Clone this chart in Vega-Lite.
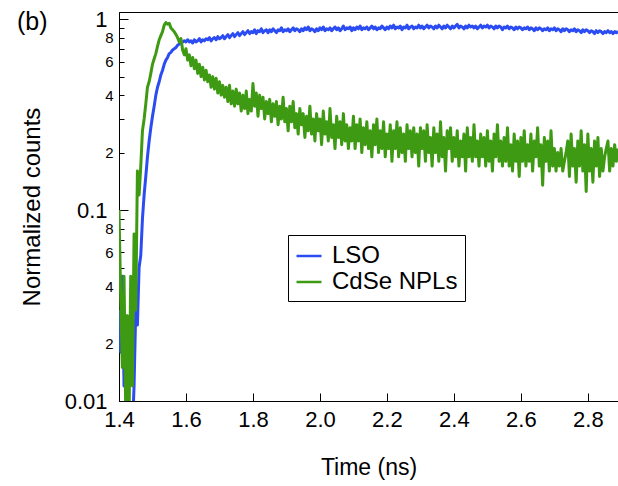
{
  "$schema": "https://vega.github.io/schema/vega-lite/v6.json",
  "autosize": "none",
  "width": 499,
  "height": 389,
  "padding": {"left": 119, "top": 12, "right": 0, "bottom": 85},
  "title": {"text": "(b)", "anchor": "start", "frame": "group", "fontSize": 25, "fontWeight": "normal", "font": "Liberation Sans", "dx": -102, "dy": 31, "color": "black"},
  "config": {
    "font": "Liberation Sans",
    "view": {"stroke": "black", "strokeWidth": 1}
  },
  "data": {"values": [
    {"t":1.4,"LSO":0.03,"CdSe NPLs":0.1},
    {"t":1.405,"LSO":0.018,"CdSe NPLs":0.035},
    {"t":1.41,"LSO":0.045,"CdSe NPLs":0.015},
    {"t":1.415,"LSO":0.012,"CdSe NPLs":0.045},
    {"t":1.42,"LSO":0.02,"CdSe NPLs":0.009},
    {"t":1.425,"LSO":0.006,"CdSe NPLs":0.028},
    {"t":1.43,"LSO":0.009,"CdSe NPLs":0.008},
    {"t":1.435,"LSO":0.005,"CdSe NPLs":0.045},
    {"t":1.44,"LSO":0.007,"CdSe NPLs":0.012},
    {"t":1.445,"LSO":0.012,"CdSe NPLs":0.075},
    {"t":1.45,"LSO":0.03,"CdSe NPLs":0.03},
    {"t":1.455,"LSO":0.025,"CdSe NPLs":0.16},
    {"t":1.46,"LSO":0.05,"CdSe NPLs":0.12},
    {"t":1.465,"LSO":0.058,"CdSe NPLs":0.17},
    {"t":1.47,"LSO":0.09,"CdSe NPLs":0.26},
    {"t":1.475,"LSO":0.12,"CdSe NPLs":0.30},
    {"t":1.48,"LSO":0.15,"CdSe NPLs":0.36},
    {"t":1.485,"LSO":0.19,"CdSe NPLs":0.44},
    {"t":1.49,"LSO":0.23,"CdSe NPLs":0.47},
    {"t":1.495,"LSO":0.27,"CdSe NPLs":0.52},
    {"t":1.5,"LSO":0.31,"CdSe NPLs":0.58},
    {"t":1.505,"LSO":0.35,"CdSe NPLs":0.62},
    {"t":1.51,"LSO":0.40,"CdSe NPLs":0.66},
    {"t":1.515,"LSO":0.44,"CdSe NPLs":0.72},
    {"t":1.52,"LSO":0.47,"CdSe NPLs":0.78},
    {"t":1.525,"LSO":0.51,"CdSe NPLs":0.82},
    {"t":1.53,"LSO":0.54,"CdSe NPLs":0.86},
    {"t":1.535,"LSO":0.58,"CdSe NPLs":0.93},
    {"t":1.54,"LSO":0.61,"CdSe NPLs":0.96},
    {"t":1.545,"LSO":0.63,"CdSe NPLs":0.94},
    {"t":1.55,"LSO":0.66,"CdSe NPLs":0.95},
    {"t":1.555,"LSO":0.67,"CdSe NPLs":0.90},
    {"t":1.56,"LSO":0.69,"CdSe NPLs":0.88},
    {"t":1.565,"LSO":0.70,"CdSe NPLs":0.86},
    {"t":1.57,"LSO":0.71,"CdSe NPLs":0.83},
    {"t":1.575,"LSO":0.73,"CdSe NPLs":0.80},
    {"t":1.58,"LSO":0.74,"CdSe NPLs":0.76},
    {"t":1.585,"LSO":0.75,"CdSe NPLs":0.79},
    {"t":1.59,"LSO":0.76,"CdSe NPLs":0.69},
    {"t":1.595,"LSO":0.77,"CdSe NPLs":0.65},
    {"t":1.6,"LSO":0.76,"CdSe NPLs":0.70},
    {"t":1.605,"LSO":0.78,"CdSe NPLs":0.61},
    {"t":1.61,"LSO":0.76,"CdSe NPLs":0.65},
    {"t":1.615,"LSO":0.77,"CdSe NPLs":0.57},
    {"t":1.62,"LSO":0.75,"CdSe NPLs":0.63},
    {"t":1.625,"LSO":0.78,"CdSe NPLs":0.55},
    {"t":1.63,"LSO":0.76,"CdSe NPLs":0.61},
    {"t":1.635,"LSO":0.77,"CdSe NPLs":0.52},
    {"t":1.64,"LSO":0.79,"CdSe NPLs":0.58},
    {"t":1.645,"LSO":0.76,"CdSe NPLs":0.50},
    {"t":1.65,"LSO":0.78,"CdSe NPLs":0.56},
    {"t":1.655,"LSO":0.77,"CdSe NPLs":0.48},
    {"t":1.66,"LSO":0.79,"CdSe NPLs":0.54},
    {"t":1.665,"LSO":0.78,"CdSe NPLs":0.47},
    {"t":1.67,"LSO":0.80,"CdSe NPLs":0.51},
    {"t":1.675,"LSO":0.77,"CdSe NPLs":0.44},
    {"t":1.68,"LSO":0.79,"CdSe NPLs":0.50},
    {"t":1.685,"LSO":0.80,"CdSe NPLs":0.43},
    {"t":1.69,"LSO":0.78,"CdSe NPLs":0.49},
    {"t":1.695,"LSO":0.81,"CdSe NPLs":0.41},
    {"t":1.7,"LSO":0.79,"CdSe NPLs":0.47},
    {"t":1.705,"LSO":0.80,"CdSe NPLs":0.40},
    {"t":1.71,"LSO":0.82,"CdSe NPLs":0.45},
    {"t":1.715,"LSO":0.79,"CdSe NPLs":0.39},
    {"t":1.72,"LSO":0.81,"CdSe NPLs":0.44},
    {"t":1.725,"LSO":0.83,"CdSe NPLs":0.37},
    {"t":1.73,"LSO":0.80,"CdSe NPLs":0.45},
    {"t":1.735,"LSO":0.82,"CdSe NPLs":0.36},
    {"t":1.74,"LSO":0.84,"CdSe NPLs":0.42},
    {"t":1.745,"LSO":0.81,"CdSe NPLs":0.35},
    {"t":1.75,"LSO":0.83,"CdSe NPLs":0.43},
    {"t":1.755,"LSO":0.85,"CdSe NPLs":0.36},
    {"t":1.76,"LSO":0.82,"CdSe NPLs":0.41},
    {"t":1.765,"LSO":0.84,"CdSe NPLs":0.33},
    {"t":1.77,"LSO":0.86,"CdSe NPLs":0.40},
    {"t":1.775,"LSO":0.83,"CdSe NPLs":0.34},
    {"t":1.78,"LSO":0.85,"CdSe NPLs":0.42},
    {"t":1.785,"LSO":0.87,"CdSe NPLs":0.32},
    {"t":1.79,"LSO":0.84,"CdSe NPLs":0.38},
    {"t":1.795,"LSO":0.86,"CdSe NPLs":0.33},
    {"t":1.8,"LSO":0.85,"CdSe NPLs":0.46},
    {"t":1.805,"LSO":0.88,"CdSe NPLs":0.35},
    {"t":1.81,"LSO":0.84,"CdSe NPLs":0.41},
    {"t":1.815,"LSO":0.87,"CdSe NPLs":0.31},
    {"t":1.82,"LSO":0.86,"CdSe NPLs":0.40},
    {"t":1.825,"LSO":0.89,"CdSe NPLs":0.34},
    {"t":1.83,"LSO":0.85,"CdSe NPLs":0.39},
    {"t":1.835,"LSO":0.87,"CdSe NPLs":0.30},
    {"t":1.84,"LSO":0.88,"CdSe NPLs":0.37},
    {"t":1.845,"LSO":0.85,"CdSe NPLs":0.32},
    {"t":1.85,"LSO":0.88,"CdSe NPLs":0.38},
    {"t":1.855,"LSO":0.86,"CdSe NPLs":0.29},
    {"t":1.86,"LSO":0.89,"CdSe NPLs":0.36},
    {"t":1.865,"LSO":0.87,"CdSe NPLs":0.31},
    {"t":1.87,"LSO":0.85,"CdSe NPLs":0.37},
    {"t":1.875,"LSO":0.88,"CdSe NPLs":0.28},
    {"t":1.88,"LSO":0.87,"CdSe NPLs":0.35},
    {"t":1.885,"LSO":0.90,"CdSe NPLs":0.30},
    {"t":1.89,"LSO":0.86,"CdSe NPLs":0.39},
    {"t":1.895,"LSO":0.88,"CdSe NPLs":0.29},
    {"t":1.9,"LSO":0.87,"CdSe NPLs":0.34},
    {"t":1.905,"LSO":0.89,"CdSe NPLs":0.26},
    {"t":1.91,"LSO":0.86,"CdSe NPLs":0.35},
    {"t":1.915,"LSO":0.88,"CdSe NPLs":0.29},
    {"t":1.92,"LSO":0.90,"CdSe NPLs":0.37},
    {"t":1.925,"LSO":0.87,"CdSe NPLs":0.27},
    {"t":1.93,"LSO":0.89,"CdSe NPLs":0.32},
    {"t":1.935,"LSO":0.88,"CdSe NPLs":0.25},
    {"t":1.94,"LSO":0.86,"CdSe NPLs":0.34},
    {"t":1.945,"LSO":0.89,"CdSe NPLs":0.28},
    {"t":1.95,"LSO":0.87,"CdSe NPLs":0.32},
    {"t":1.955,"LSO":0.90,"CdSe NPLs":0.24},
    {"t":1.96,"LSO":0.88,"CdSe NPLs":0.31},
    {"t":1.965,"LSO":0.91,"CdSe NPLs":0.26},
    {"t":1.97,"LSO":0.87,"CdSe NPLs":0.35},
    {"t":1.975,"LSO":0.89,"CdSe NPLs":0.25},
    {"t":1.98,"LSO":0.88,"CdSe NPLs":0.30},
    {"t":1.985,"LSO":0.86,"CdSe NPLs":0.23},
    {"t":1.99,"LSO":0.89,"CdSe NPLs":0.32},
    {"t":1.995,"LSO":0.87,"CdSe NPLs":0.26},
    {"t":2.0,"LSO":0.90,"CdSe NPLs":0.30},
    {"t":2.005,"LSO":0.88,"CdSe NPLs":0.22},
    {"t":2.01,"LSO":0.91,"CdSe NPLs":0.33},
    {"t":2.015,"LSO":0.87,"CdSe NPLs":0.25},
    {"t":2.02,"LSO":0.89,"CdSe NPLs":0.29},
    {"t":2.025,"LSO":0.88,"CdSe NPLs":0.23},
    {"t":2.03,"LSO":0.90,"CdSe NPLs":0.34},
    {"t":2.035,"LSO":0.87,"CdSe NPLs":0.24},
    {"t":2.04,"LSO":0.89,"CdSe NPLs":0.28},
    {"t":2.045,"LSO":0.91,"CdSe NPLs":0.21},
    {"t":2.05,"LSO":0.88,"CdSe NPLs":0.31},
    {"t":2.055,"LSO":0.90,"CdSe NPLs":0.24},
    {"t":2.06,"LSO":0.87,"CdSe NPLs":0.29},
    {"t":2.065,"LSO":0.89,"CdSe NPLs":0.22},
    {"t":2.07,"LSO":0.92,"CdSe NPLs":0.32},
    {"t":2.075,"LSO":0.88,"CdSe NPLs":0.23},
    {"t":2.08,"LSO":0.90,"CdSe NPLs":0.28},
    {"t":2.085,"LSO":0.89,"CdSe NPLs":0.21},
    {"t":2.09,"LSO":0.91,"CdSe NPLs":0.27},
    {"t":2.095,"LSO":0.87,"CdSe NPLs":0.23},
    {"t":2.1,"LSO":0.90,"CdSe NPLs":0.31},
    {"t":2.105,"LSO":0.88,"CdSe NPLs":0.21},
    {"t":2.11,"LSO":0.91,"CdSe NPLs":0.28},
    {"t":2.115,"LSO":0.89,"CdSe NPLs":0.23},
    {"t":2.12,"LSO":0.92,"CdSe NPLs":0.30},
    {"t":2.125,"LSO":0.88,"CdSe NPLs":0.20},
    {"t":2.13,"LSO":0.90,"CdSe NPLs":0.27},
    {"t":2.135,"LSO":0.89,"CdSe NPLs":0.22},
    {"t":2.14,"LSO":0.91,"CdSe NPLs":0.29},
    {"t":2.145,"LSO":0.88,"CdSe NPLs":0.21},
    {"t":2.15,"LSO":0.90,"CdSe NPLs":0.26},
    {"t":2.155,"LSO":0.92,"CdSe NPLs":0.19},
    {"t":2.16,"LSO":0.89,"CdSe NPLs":0.28},
    {"t":2.165,"LSO":0.91,"CdSe NPLs":0.22},
    {"t":2.17,"LSO":0.88,"CdSe NPLs":0.30},
    {"t":2.175,"LSO":0.90,"CdSe NPLs":0.20},
    {"t":2.18,"LSO":0.89,"CdSe NPLs":0.26},
    {"t":2.185,"LSO":0.92,"CdSe NPLs":0.21},
    {"t":2.19,"LSO":0.90,"CdSe NPLs":0.29},
    {"t":2.195,"LSO":0.88,"CdSe NPLs":0.19},
    {"t":2.2,"LSO":0.91,"CdSe NPLs":0.25},
    {"t":2.205,"LSO":0.89,"CdSe NPLs":0.21},
    {"t":2.21,"LSO":0.92,"CdSe NPLs":0.28},
    {"t":2.215,"LSO":0.90,"CdSe NPLs":0.18},
    {"t":2.22,"LSO":0.93,"CdSe NPLs":0.26},
    {"t":2.225,"LSO":0.89,"CdSe NPLs":0.21},
    {"t":2.23,"LSO":0.91,"CdSe NPLs":0.29},
    {"t":2.235,"LSO":0.90,"CdSe NPLs":0.19},
    {"t":2.24,"LSO":0.92,"CdSe NPLs":0.27},
    {"t":2.245,"LSO":0.88,"CdSe NPLs":0.20},
    {"t":2.25,"LSO":0.91,"CdSe NPLs":0.25},
    {"t":2.255,"LSO":0.90,"CdSe NPLs":0.18},
    {"t":2.26,"LSO":0.93,"CdSe NPLs":0.28},
    {"t":2.265,"LSO":0.89,"CdSe NPLs":0.21},
    {"t":2.27,"LSO":0.91,"CdSe NPLs":0.26},
    {"t":2.275,"LSO":0.92,"CdSe NPLs":0.19},
    {"t":2.28,"LSO":0.89,"CdSe NPLs":0.27},
    {"t":2.285,"LSO":0.91,"CdSe NPLs":0.20},
    {"t":2.29,"LSO":0.90,"CdSe NPLs":0.25},
    {"t":2.295,"LSO":0.93,"CdSe NPLs":0.17},
    {"t":2.3,"LSO":0.90,"CdSe NPLs":0.27},
    {"t":2.305,"LSO":0.92,"CdSe NPLs":0.21},
    {"t":2.31,"LSO":0.89,"CdSe NPLs":0.26},
    {"t":2.315,"LSO":0.91,"CdSe NPLs":0.18},
    {"t":2.32,"LSO":0.93,"CdSe NPLs":0.28},
    {"t":2.325,"LSO":0.90,"CdSe NPLs":0.20},
    {"t":2.33,"LSO":0.92,"CdSe NPLs":0.24},
    {"t":2.335,"LSO":0.91,"CdSe NPLs":0.17},
    {"t":2.34,"LSO":0.89,"CdSe NPLs":0.27},
    {"t":2.345,"LSO":0.92,"CdSe NPLs":0.20},
    {"t":2.35,"LSO":0.90,"CdSe NPLs":0.25},
    {"t":2.355,"LSO":0.93,"CdSe NPLs":0.18},
    {"t":2.36,"LSO":0.91,"CdSe NPLs":0.29},
    {"t":2.365,"LSO":0.89,"CdSe NPLs":0.19},
    {"t":2.37,"LSO":0.92,"CdSe NPLs":0.24},
    {"t":2.375,"LSO":0.90,"CdSe NPLs":0.16},
    {"t":2.38,"LSO":0.93,"CdSe NPLs":0.26},
    {"t":2.385,"LSO":0.91,"CdSe NPLs":0.21},
    {"t":2.39,"LSO":0.89,"CdSe NPLs":0.27},
    {"t":2.395,"LSO":0.92,"CdSe NPLs":0.18},
    {"t":2.4,"LSO":0.90,"CdSe NPLs":0.24},
    {"t":2.405,"LSO":0.92,"CdSe NPLs":0.19},
    {"t":2.41,"LSO":0.94,"CdSe NPLs":0.26},
    {"t":2.415,"LSO":0.90,"CdSe NPLs":0.17},
    {"t":2.42,"LSO":0.92,"CdSe NPLs":0.23},
    {"t":2.425,"LSO":0.91,"CdSe NPLs":0.19},
    {"t":2.43,"LSO":0.89,"CdSe NPLs":0.25},
    {"t":2.435,"LSO":0.92,"CdSe NPLs":0.16},
    {"t":2.44,"LSO":0.90,"CdSe NPLs":0.27},
    {"t":2.445,"LSO":0.93,"CdSe NPLs":0.19},
    {"t":2.45,"LSO":0.91,"CdSe NPLs":0.24},
    {"t":2.455,"LSO":0.92,"CdSe NPLs":0.18},
    {"t":2.46,"LSO":0.90,"CdSe NPLs":0.28},
    {"t":2.465,"LSO":0.92,"CdSe NPLs":0.19},
    {"t":2.47,"LSO":0.89,"CdSe NPLs":0.23},
    {"t":2.475,"LSO":0.91,"CdSe NPLs":0.17},
    {"t":2.48,"LSO":0.93,"CdSe NPLs":0.25},
    {"t":2.485,"LSO":0.90,"CdSe NPLs":0.19},
    {"t":2.49,"LSO":0.92,"CdSe NPLs":0.24},
    {"t":2.495,"LSO":0.91,"CdSe NPLs":0.17},
    {"t":2.5,"LSO":0.93,"CdSe NPLs":0.26},
    {"t":2.505,"LSO":0.90,"CdSe NPLs":0.18},
    {"t":2.51,"LSO":0.92,"CdSe NPLs":0.23},
    {"t":2.515,"LSO":0.91,"CdSe NPLs":0.16},
    {"t":2.52,"LSO":0.89,"CdSe NPLs":0.25},
    {"t":2.525,"LSO":0.92,"CdSe NPLs":0.19},
    {"t":2.53,"LSO":0.90,"CdSe NPLs":0.28},
    {"t":2.535,"LSO":0.92,"CdSe NPLs":0.18},
    {"t":2.54,"LSO":0.91,"CdSe NPLs":0.23},
    {"t":2.545,"LSO":0.88,"CdSe NPLs":0.17},
    {"t":2.55,"LSO":0.91,"CdSe NPLs":0.24},
    {"t":2.555,"LSO":0.90,"CdSe NPLs":0.18},
    {"t":2.56,"LSO":0.92,"CdSe NPLs":0.27},
    {"t":2.565,"LSO":0.89,"CdSe NPLs":0.17},
    {"t":2.57,"LSO":0.91,"CdSe NPLs":0.22},
    {"t":2.575,"LSO":0.90,"CdSe NPLs":0.16},
    {"t":2.58,"LSO":0.88,"CdSe NPLs":0.25},
    {"t":2.585,"LSO":0.91,"CdSe NPLs":0.18},
    {"t":2.59,"LSO":0.89,"CdSe NPLs":0.23},
    {"t":2.595,"LSO":0.91,"CdSe NPLs":0.15},
    {"t":2.6,"LSO":0.90,"CdSe NPLs":0.24},
    {"t":2.605,"LSO":0.88,"CdSe NPLs":0.18},
    {"t":2.61,"LSO":0.90,"CdSe NPLs":0.26},
    {"t":2.615,"LSO":0.89,"CdSe NPLs":0.17},
    {"t":2.62,"LSO":0.91,"CdSe NPLs":0.22},
    {"t":2.625,"LSO":0.88,"CdSe NPLs":0.18},
    {"t":2.63,"LSO":0.90,"CdSe NPLs":0.25},
    {"t":2.635,"LSO":0.89,"CdSe NPLs":0.16},
    {"t":2.64,"LSO":0.87,"CdSe NPLs":0.23},
    {"t":2.645,"LSO":0.90,"CdSe NPLs":0.19},
    {"t":2.65,"LSO":0.88,"CdSe NPLs":0.27},
    {"t":2.655,"LSO":0.90,"CdSe NPLs":0.17},
    {"t":2.66,"LSO":0.89,"CdSe NPLs":0.22},
    {"t":2.665,"LSO":0.87,"CdSe NPLs":0.135},
    {"t":2.67,"LSO":0.89,"CdSe NPLs":0.24},
    {"t":2.675,"LSO":0.88,"CdSe NPLs":0.18},
    {"t":2.68,"LSO":0.90,"CdSe NPLs":0.23},
    {"t":2.685,"LSO":0.87,"CdSe NPLs":0.16},
    {"t":2.69,"LSO":0.89,"CdSe NPLs":0.26},
    {"t":2.695,"LSO":0.88,"CdSe NPLs":0.17},
    {"t":2.7,"LSO":0.90,"CdSe NPLs":0.21},
    {"t":2.705,"LSO":0.87,"CdSe NPLs":0.16},
    {"t":2.71,"LSO":0.89,"CdSe NPLs":0.20},
    {"t":2.715,"LSO":0.88,"CdSe NPLs":0.17},
    {"t":2.72,"LSO":0.86,"CdSe NPLs":0.21},
    {"t":2.725,"LSO":0.89,"CdSe NPLs":0.16},
    {"t":2.73,"LSO":0.87,"CdSe NPLs":0.18},
    {"t":2.735,"LSO":0.89,"CdSe NPLs":0.20},
    {"t":2.74,"LSO":0.88,"CdSe NPLs":0.23},
    {"t":2.745,"LSO":0.86,"CdSe NPLs":0.15},
    {"t":2.75,"LSO":0.88,"CdSe NPLs":0.25},
    {"t":2.755,"LSO":0.87,"CdSe NPLs":0.17},
    {"t":2.76,"LSO":0.89,"CdSe NPLs":0.21},
    {"t":2.765,"LSO":0.86,"CdSe NPLs":0.14},
    {"t":2.77,"LSO":0.88,"CdSe NPLs":0.23},
    {"t":2.775,"LSO":0.87,"CdSe NPLs":0.17},
    {"t":2.78,"LSO":0.85,"CdSe NPLs":0.26},
    {"t":2.785,"LSO":0.88,"CdSe NPLs":0.16},
    {"t":2.79,"LSO":0.86,"CdSe NPLs":0.22},
    {"t":2.795,"LSO":0.88,"CdSe NPLs":0.125},
    {"t":2.8,"LSO":0.87,"CdSe NPLs":0.25},
    {"t":2.805,"LSO":0.85,"CdSe NPLs":0.16},
    {"t":2.81,"LSO":0.87,"CdSe NPLs":0.21},
    {"t":2.815,"LSO":0.86,"CdSe NPLs":0.14},
    {"t":2.82,"LSO":0.84,"CdSe NPLs":0.23},
    {"t":2.825,"LSO":0.87,"CdSe NPLs":0.17},
    {"t":2.83,"LSO":0.85,"CdSe NPLs":0.24},
    {"t":2.835,"LSO":0.87,"CdSe NPLs":0.15},
    {"t":2.84,"LSO":0.86,"CdSe NPLs":0.21},
    {"t":2.845,"LSO":0.84,"CdSe NPLs":0.16},
    {"t":2.85,"LSO":0.86,"CdSe NPLs":0.19},
    {"t":2.855,"LSO":0.85,"CdSe NPLs":0.21},
    {"t":2.86,"LSO":0.87,"CdSe NPLs":0.23},
    {"t":2.865,"LSO":0.85,"CdSe NPLs":0.16},
    {"t":2.87,"LSO":0.86,"CdSe NPLs":0.21},
    {"t":2.875,"LSO":0.84,"CdSe NPLs":0.17},
    {"t":2.88,"LSO":0.86,"CdSe NPLs":0.22},
    {"t":2.885,"LSO":0.85,"CdSe NPLs":0.18},
    {"t":2.89,"LSO":0.86,"CdSe NPLs":0.21}
  ]},
  "transform": [{"fold": ["LSO", "CdSe NPLs"], "as": ["series", "value"]}],
  "mark": {"type": "line", "clip": true, "strokeWidth": 3, "strokeJoin": "round"},
  "encoding": {
    "x": {
      "field": "t", "type": "quantitative",
      "scale": {"domain": [1.4, 2.89], "nice": false, "zero": false},
      "axis": {
        "values": [1.4, 1.6, 1.8, 2.0, 2.2, 2.4, 2.6, 2.8],
        "format": ".1f",
        "title": "Time (ns)",
        "titleFontSize": 23, "titleFontWeight": "normal", "titleColor": "black", "titlePadding": 26,
        "labelFontSize": 22, "labelColor": "black", "labelPadding": 16, "labelFlush": false,
        "tickSize": -8, "tickColor": "black", "domainColor": "black", "grid": false
      }
    },
    "y": {
      "field": "value", "type": "quantitative",
      "scale": {"type": "log", "domain": [0.01, 1.09], "nice": false},
      "axis": {
        "values": [0.01,0.02,0.03,0.04,0.05,0.06,0.07,0.08,0.09,0.1,0.2,0.3,0.4,0.5,0.6,0.7,0.8,0.9,1],
        "labelExpr": "datum.value > 0.95 ? '1' : (datum.value > 0.095 && datum.value < 0.105) ? '0.1' : datum.value < 0.0105 ? '0.01' : (datum.value < 0.1 ? (round(datum.value*100) % 2 == 0 ? format(round(datum.value*100),'d') : '') : (round(datum.value*10) % 2 == 0 ? format(round(datum.value*10),'d') : ''))",
        "labelFontSize": {"condition": {"test": "datum.value > 0.95 || (datum.value > 0.095 && datum.value < 0.105) || datum.value < 0.0105", "value": 22}, "value": 15},
        "tickSize": {"condition": {"test": "datum.value > 0.95 || (datum.value > 0.095 && datum.value < 0.105) || datum.value < 0.0105", "value": -9}, "value": -5},
        "labelPadding": {"condition": {"test": "datum.value > 0.95 || (datum.value > 0.095 && datum.value < 0.105) || datum.value < 0.0105", "value": 21}, "value": 11},
        "labelColor": "black", "labelFlush": false, "labelOverlap": false, "labelBound": false,
        "tickColor": "black", "domainColor": "black", "grid": false,
        "title": "Normalized counts", "titleFontSize": 24, "titleFontWeight": "normal", "titleColor": "black", "titlePadding": 20
      }
    },
    "color": {
      "field": "series", "type": "nominal",
      "scale": {"domain": ["LSO", "CdSe NPLs"], "range": ["#2b4cf2", "#3e9a12"]},
      "legend": {
        "title": null, "orient": "none", "legendX": 169, "legendY": 223,
        "strokeColor": "black", "fillColor": "white", "padding": 7,
        "labelFontSize": 24, "labelColor": "black", "labelLimit": 300,
        "symbolType": "stroke", "symbolSize": 625, "symbolStrokeWidth": 2.5,
        "rowPadding": 0, "labelOffset": 9
      }
    }
  }
}
